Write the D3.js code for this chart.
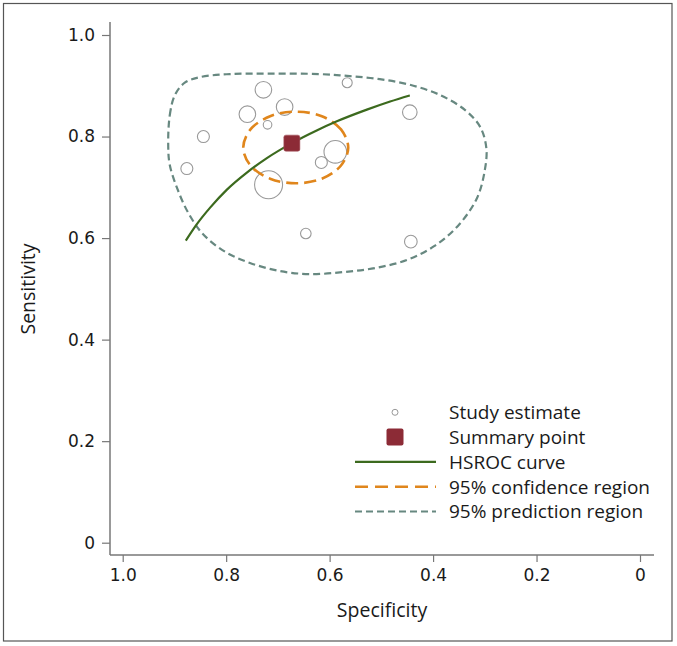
<!DOCTYPE html>
<html>
<head>
<meta charset="utf-8">
<script src="https://cdn.jsdelivr.net/npm/d3@7"></script>
<style>
  html, body { margin: 0; padding: 0; background: #fff; }
  svg { display: block; }
</style>
</head>
<body>
<svg id="chart" width="677" height="646"></svg>
<script>
// ---------- data ----------
const xTicks = [1.0, 0.8, 0.6, 0.4, 0.2, 0];
const yTicks = [0, 0.2, 0.4, 0.6, 0.8, 1.0];
const xTickLabels = ["1.0", "0.8", "0.6", "0.4", "0.2", "0"];
const yTickLabels = ["0", "0.2", "0.4", "0.6", "0.8", "1.0"];

// study estimates
const studySpec = [0.728, 0.566, 0.759, 0.687, 0.720, 0.445, 0.844, 0.876, 0.589, 0.616, 0.718, 0.646, 0.443];
const studySens = [0.892, 0.906, 0.844, 0.858, 0.823, 0.848, 0.800, 0.737, 0.770, 0.749, 0.705, 0.609, 0.593];
const studyWeight = [69, 25, 69, 69, 18.5, 53, 36, 36, 128, 36, 196, 28, 40];

// summary point
const summarySpec = 0.673;
const summarySens = 0.787;

// HSROC curve
const hsrocSpec = [0.878, 0.857, 0.831, 0.799, 0.760, 0.722, 0.673, 0.625, 0.586, 0.528, 0.483, 0.445];
const hsrocSens = [0.595, 0.627, 0.660, 0.695, 0.729, 0.757, 0.787, 0.812, 0.830, 0.853, 0.869, 0.881];

// 95% confidence region contour
const confSpec = [0.564, 0.578, 0.615, 0.665, 0.715, 0.753, 0.767, 0.753, 0.715, 0.665, 0.615, 0.578];
const confSens = [0.778, 0.814, 0.840, 0.849, 0.840, 0.814, 0.778, 0.743, 0.717, 0.708, 0.717, 0.743];

// 95% prediction region contour
const predSpec = [0.912, 0.909, 0.899, 0.880, 0.851, 0.793, 0.715, 0.619, 0.561, 0.503, 0.445, 0.387, 0.338, 0.309, 0.297,
                  0.300, 0.315, 0.352, 0.398, 0.450, 0.512, 0.574, 0.638, 0.696, 0.754, 0.802, 0.845, 0.874, 0.895, 0.909];
const predSens = [0.781, 0.842, 0.882, 0.906, 0.917, 0.923, 0.924, 0.923, 0.919, 0.913, 0.902, 0.882, 0.852, 0.819, 0.777,
                  0.734, 0.679, 0.624, 0.584, 0.557, 0.541, 0.533, 0.529, 0.535, 0.551, 0.573, 0.608, 0.651, 0.699, 0.744];

const legendLabels = ["Study estimate", "Summary point", "HSROC curve", "95% confidence region", "95% prediction region"];

// ---------- drawing ----------
const svg = d3.select("#chart");

const colAxis = "#777";
const colGreen = "#3c6a1e";
const colOrange = "#e0861c";
const colPred = "#678880";
const colSummary = "#8c2b36";
const colStudy = "#999";
const colText = "#1a1a1a";

// frame
svg.append("rect").attr("x", 3.5).attr("y", 3.5).attr("width", 668.5).attr("height", 637.5)
  .attr("fill", "#fff").attr("stroke", "#555").attr("stroke-width", 1.2);

const x = d3.scaleLinear().domain([1, 0]).range([122.7, 640]);
const y = d3.scaleLinear().domain([0, 1]).range([542.7, 35]);
const r = d3.scaleSqrt().domain([0, 196]).range([0, 14]);

const axisX0 = 110, axisY0 = 555;

// y axis
const gy = svg.append("g").attr("transform", `translate(${axisX0},0)`);
gy.call(d3.axisLeft(y).tickValues(yTicks).tickSize(8).tickPadding(7)
  .tickFormat((d, i) => yTickLabels[i]));
gy.select(".domain").remove();
gy.append("line").attr("x1", 0).attr("x2", 0).attr("y1", 22).attr("y2", axisY0)
  .attr("stroke", colAxis).attr("stroke-width", 1.5);
gy.selectAll(".tick line").attr("stroke", colAxis).attr("stroke-width", 1.2);
gy.selectAll(".tick text").attr("font-family", "DejaVu Sans").attr("font-size", 17).attr("fill", colText);

// x axis
const gx = svg.append("g").attr("transform", `translate(0,${axisY0})`);
gx.call(d3.axisBottom(x).tickValues(xTicks).tickSize(7).tickPadding(7)
  .tickFormat((d, i) => xTickLabels[i]));
gx.select(".domain").remove();
gx.append("line").attr("x1", axisX0).attr("x2", 654).attr("y1", 0).attr("y2", 0)
  .attr("stroke", colAxis).attr("stroke-width", 1.5);
gx.selectAll(".tick line").attr("stroke", colAxis).attr("stroke-width", 1.2);
gx.selectAll(".tick text").attr("font-family", "DejaVu Sans").attr("font-size", 17).attr("fill", colText);

// axis titles
svg.append("text").attr("x", 382).attr("y", 617).attr("text-anchor", "middle")
  .attr("font-family", "Open Sans").attr("font-size", 19.5).attr("fill", colText).text("Specificity");
svg.append("text").attr("transform", "translate(35,289) rotate(-90)").attr("text-anchor", "middle")
  .attr("font-family", "Open Sans").attr("font-size", 19.5).attr("fill", colText).text("Sensitivity");

// prediction region
const pred = predSpec.map((s, i) => [s, predSens[i]]);
svg.append("path")
  .attr("d", d3.line().x(d => x(d[0])).y(d => y(d[1])).curve(d3.curveCatmullRomClosed)(pred))
  .attr("fill", "none").attr("stroke", colPred).attr("stroke-width", 2.2)
  .attr("stroke-dasharray", "7,4");

// study estimates
const studies = studySpec.map((s, i) => ({ s, v: studySens[i], w: studyWeight[i] }));
svg.append("g").selectAll("circle").data(studies).join("circle")
  .attr("cx", d => x(d.s)).attr("cy", d => y(d.v)).attr("r", d => r(d.w))
  .attr("fill", "none").attr("stroke", colStudy).attr("stroke-width", 1.1);

// confidence region
const conf = confSpec.map((s, i) => [s, confSens[i]]);
svg.append("path")
  .attr("d", d3.line().x(d => x(d[0])).y(d => y(d[1])).curve(d3.curveCatmullRomClosed)(conf))
  .attr("fill", "none").attr("stroke", colOrange).attr("stroke-width", 2.6)
  .attr("stroke-dasharray", "12,6");

// HSROC curve
const hs = hsrocSpec.map((s, i) => [s, hsrocSens[i]]);
svg.append("path")
  .attr("d", d3.line().x(d => x(d[0])).y(d => y(d[1])).curve(d3.curveMonotoneX)(hs))
  .attr("fill", "none").attr("stroke", colGreen).attr("stroke-width", 2.2);

// summary point
const sq = 16;
svg.append("rect")
  .attr("x", x(summarySpec) - sq / 2).attr("y", y(summarySens) - sq / 2)
  .attr("width", sq).attr("height", sq).attr("rx", 2)
  .attr("fill", colSummary).attr("stroke", "#a5545c").attr("stroke-width", 0.6);

// legend
const lgX = 395, lgTextX = 449, lgY0 = 412.3, lgDy = 24.8;
const lg = svg.append("g");
legendLabels.forEach((t, i) => {
  lg.append("text").attr("x", lgTextX).attr("y", lgY0 + i * lgDy + 6.8)
    .attr("font-family", "Open Sans").attr("font-size", 19).attr("fill", colText).text(t);
});
lg.append("circle").attr("cx", lgX).attr("cy", lgY0).attr("r", 3)
  .attr("fill", "none").attr("stroke", colStudy).attr("stroke-width", 1);
lg.append("rect").attr("x", lgX - 8.5).attr("y", lgY0 + lgDy - 8.5).attr("width", 17).attr("height", 17)
  .attr("rx", 2).attr("fill", colSummary);
lg.append("line").attr("x1", 355).attr("x2", 436).attr("y1", lgY0 + 2 * lgDy).attr("y2", lgY0 + 2 * lgDy)
  .attr("stroke", colGreen).attr("stroke-width", 2.2);
lg.append("line").attr("x1", 355).attr("x2", 436).attr("y1", lgY0 + 3 * lgDy).attr("y2", lgY0 + 3 * lgDy)
  .attr("stroke", colOrange).attr("stroke-width", 2.6).attr("stroke-dasharray", "13,7");
lg.append("line").attr("x1", 355).attr("x2", 436).attr("y1", lgY0 + 4 * lgDy).attr("y2", lgY0 + 4 * lgDy)
  .attr("stroke", colPred).attr("stroke-width", 2.2).attr("stroke-dasharray", "7,4");
</script>
</body>
</html>
